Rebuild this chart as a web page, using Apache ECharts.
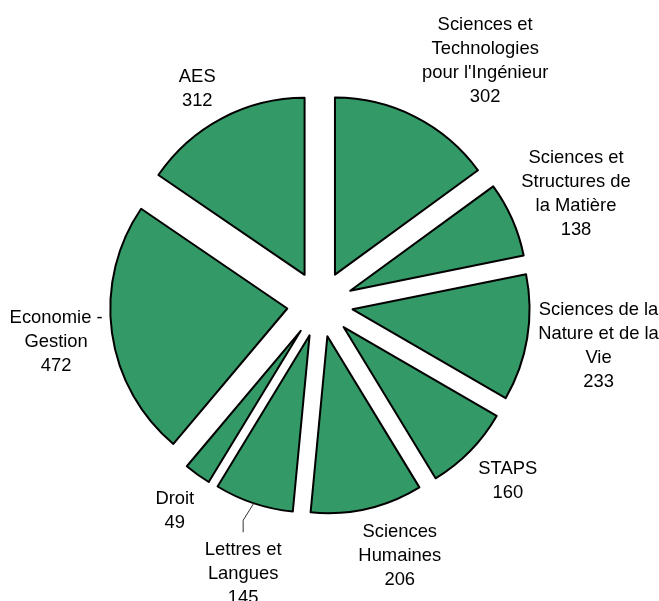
<!DOCTYPE html>
<html><head><meta charset="utf-8">
<script src="https://cdn.jsdelivr.net/npm/echarts@6/dist/echarts.min.js"></script>
<style>html,body{margin:0;padding:0;background:#fff}#c{width:659px;height:601px}</style>
</head><body><div id="c"></div>
<script>
const categories = ["Sciences et\nTechnologies\npour l'Ingénieur", "Sciences et\nStructures de\nla Matière", "Sciences de la\nNature et de la\nVie", "STAPS", "Sciences\nHumaines", "Lettres et\nLangues", "Droit", "Economie -\nGestion", "AES"];
const values = [302, 138, 233, 160, 206, 145, 49, 472, 312];
const labelNudge = [[34,14.5],[-7,5.5],[-3,-4],[5,-2.5],[21,-3.5],[6.5,19.5],[0,4.5],[2.6,1.6],[-7,4]];
const leaderIndex = 5;

const CX = 320, CY = 304, R = 177, OFFSET = 33, PAD = 8;
const total = values.reduce((a, b) => a + b, 0);
const mids = []; let acc = 0;
values.forEach(v => { mids.push((acc + v / 2) / total * 2 * Math.PI); acc += v; });

const chart = echarts.init(document.getElementById('c'), null, {renderer: 'canvas'});
const sliceStyle = {color: '#339966', borderColor: '#000', borderWidth: 2};
const labelStyle = {show: true, position: 'outside', formatter: '{b}\n{c}', fontFamily: 'Liberation Sans, Arial, sans-serif', fontSize: 18.4, lineHeight: 24, color: '#000'};
const pieData = categories.map((n, i) => ({name: n, value: values[i]}));
chart.setOption({
  backgroundColor: '#fff',
  animation: false,
  series: [{
    type: 'pie', center: [CX, CY], radius: R, startAngle: 90, clockwise: true,
    selectedMode: 'multiple', selectedOffset: OFFSET,
    itemStyle: sliceStyle,
    select: {itemStyle: sliceStyle},
    emphasis: {disabled: true},
    label: {show: false}, labelLine: {show: false},
    data: pieData.map(d => Object.assign({selected: true}, d))
  }, {
    type: 'pie', center: [CX, CY], radius: R, startAngle: 90, clockwise: true,
    silent: true, z: 5, avoidLabelOverlap: false,
    itemStyle: {color: 'rgba(0,0,0,0)', borderWidth: 0},
    emphasis: {disabled: true},
    label: labelStyle,
    labelLine: {show: false, lineStyle: {color: '#333', width: 1}},
    labelLayout: function (p) {
      const i = p.dataIndex; const a = mids[i];
      const s = Math.sin(a), c = Math.cos(a);
      const w = p.labelRect.width, h = p.labelRect.height;
      const half = Math.abs(s) * w / 2 + Math.abs(c) * h / 2;
      const d = R + OFFSET + PAD + half;
      const x = CX + d * s + labelNudge[i][0];
      const y = CY - d * c + labelNudge[i][1];
      const out = {x: x, y: y, align: 'center', verticalAlign: 'middle'};
      if (i === leaderIndex) {
        const sx = CX + (OFFSET + R) * s, sy = CY - (OFFSET + R) * c;
        const top = y - h / 2;
        out.labelLinePoints = [[sx, sy], [x, top - 18], [x, top - 6]];
      }
      return out;
    },
    data: pieData.map((d, i) => i === leaderIndex ? Object.assign({labelLine: {show: true}}, d) : d)
  }]
});
</script>
</body></html>
